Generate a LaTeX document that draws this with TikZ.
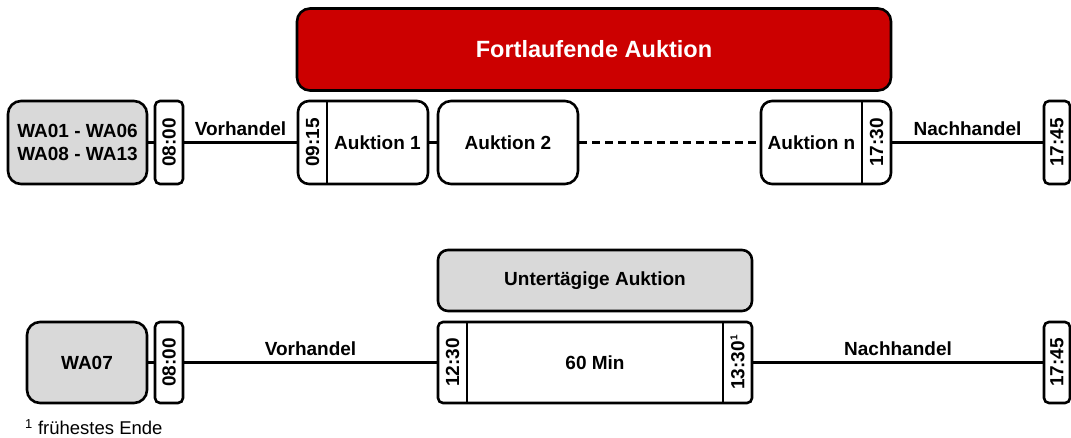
\documentclass[tikz,border=0pt]{standalone}
\usepackage{fontspec}
\setmainfont{Liberation Sans}
\definecolor{boxgray}{HTML}{D9D9D9}
\definecolor{auktred}{HTML}{CC0000}
\tikzset{
  lw/.style={line width=2.6pt},
  basebox/.style={draw, lw, inner sep=0pt, align=center,
    font=\bfseries\fontsize{19}{22.5}\selectfont},
  bigbox/.style={basebox, rounded corners=13pt},
  timebox/.style={basebox, rounded corners=5pt},
  txt/.style={inner sep=0pt, font=\bfseries\fontsize{19}{22.5}\selectfont, align=center},
  vtxt/.style={txt, rotate=90},
  conn/.style={lw},
  phase/.style={above=6pt, midway, txt},
}
\begin{document}
\begin{tikzpicture}[x=1pt,y=-1pt]
\useasboundingbox (0,0) rectangle (1071,437);
% ---------- top row ----------
\node[bigbox, fill=auktred, minimum width=594pt, minimum height=82pt,
      text=white, font=\bfseries\fontsize{23.5}{28}\selectfont] (red) at (594,49.5) {Fortlaufende Auktion};
\node[bigbox, fill=boxgray, minimum width=139pt, minimum height=83pt] (wa1) at (77.5,142.5) {WA01 - WA06\\WA08 - WA13};
\node[timebox, minimum width=28pt, minimum height=83pt] (t1a) at (169,142.5) {};
\node[vtxt] (t1at) at (t1a.center) {08:00};
\node[timebox, rounded corners=11pt, minimum width=130pt, minimum height=83pt] (auk1) at (363,142.5) {};
\coordinate (d1) at (327,101);
\draw[lw] (d1) -- (d1 |- auk1.south);
\node[vtxt] (t1b) at (312.5,142.5) {09:15};
\node[txt] (a1l) at (377.5,142.5) {Auktion 1};
\node[bigbox, minimum width=140pt, minimum height=83pt] (auk2) at (508,142.5) {Auktion 2};
\node[timebox, rounded corners=11pt, minimum width=130pt, minimum height=83pt] (aukn) at (826,142.5) {};
\coordinate (d2) at (862,101);
\draw[lw] (d2) -- (d2 |- aukn.south);
\node[txt] (anl) at (811.5,142.5) {Auktion n};
\node[vtxt] (t1c) at (876.5,142.5) {17:30};
\node[timebox, minimum width=26pt, minimum height=83pt] (t1e) at (1057,142.5) {};
\node[vtxt] (t1et) at (t1e.center) {17:45};
\draw[conn] (wa1.east) -- (t1a.west);
\draw[conn] (t1a.east) -- (auk1.west) node[phase] (vh1) {Vorhandel};
\draw[conn] (auk1.east) -- (auk2.west);
\draw[conn, dash pattern=on 8pt off 5pt] (auk2.east) -- (aukn.west);
\draw[conn] (aukn.east) -- (t1e.west) node[phase] (nh1) {Nachhandel};
% ---------- bottom row ----------
\node[bigbox, fill=boxgray, minimum width=120pt, minimum height=81pt] (wa7) at (87,362.5) {WA07};
\node[timebox, minimum width=28pt, minimum height=81pt] (t2a) at (169,362.5) {};
\node[vtxt] (t2at) at (t2a.center) {08:00};
\node[bigbox, rounded corners=10pt, fill=boxgray, minimum width=314pt, minimum height=61pt] (ua) at (595,280.5) {Untertägige Auktion};
\node[timebox, minimum width=314pt, minimum height=81pt] (ma) at (595,362.5) {};
\coordinate (d3) at (467,322);
\coordinate (d4) at (723,322);
\draw[lw] (d3) -- (d3 |- ma.south);
\draw[lw] (d4) -- (d4 |- ma.south);
\node[vtxt] (t2b) at (452.5,362.5) {12:30};
\node[txt] (ml) at (595,362.5) {60 Min};
\node[vtxt] (t2c) at (737.5,362.5) {13:30\raisebox{0.7ex}{\fontsize{10}{12}\selectfont 1}};
\node[timebox, minimum width=26pt, minimum height=81pt] (t2e) at (1057,362.5) {};
\node[vtxt] (t2et) at (t2e.center) {17:45};
\draw[conn] (wa7.east) -- (t2a.west);
\draw[conn] (t2a.east) -- (ma.west) node[phase] (vh2) {Vorhandel};
\draw[conn] (ma.east) -- (t2e.west) node[phase] (nh2) {Nachhandel};
% footnote
\node[anchor=west, inner sep=0pt, font=\fontsize{18.5}{22}\selectfont] (fn) at (25,427) {\textsuperscript{1} frühestes Ende};
\end{tikzpicture}
\end{document}
